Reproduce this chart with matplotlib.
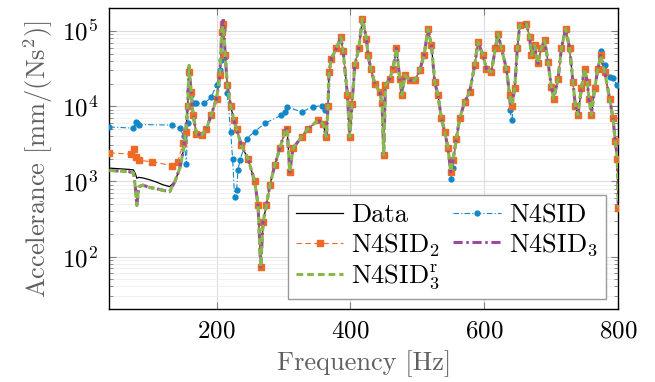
import numpy as np
import matplotlib
matplotlib.use("Agg")
import matplotlib.pyplot as plt
from matplotlib.ticker import LogLocator, NullFormatter

plt.rcParams['font.family'] = 'serif'
plt.rcParams['font.serif'] = ['cmr10']
plt.rcParams['mathtext.fontset'] = 'cm'
plt.rcParams['axes.formatter.use_mathtext'] = True
plt.rcParams['axes.unicode_minus'] = False

f_data = [40, 50, 60, 70, 76, 79, 81, 84, 90, 100, 110, 120, 130, 138, 145, 150, 154, 157,
          159, 162, 165, 170, 178, 185, 192, 200, 205, 208, 210, 213, 216, 221, 226]
v_data = [1500, 1480, 1460, 1440, 1420, 1250, 1100, 1130, 1110, 1050, 980, 900, 850, 1000,
          1490, 2450, 4600, 10200, 28500, 15500, 7600, 4300, 4100, 5000, 7600, 12600, 25800,
          97000, 125000, 47500, 19000, 10200, 6500]

# high frequency part, where all the models lie on top of the data
f_tail = [230, 237, 247, 257, 262, 266, 269.5, 274.6, 279.6, 287, 294.5, 302, 305.4, 309.4,
          314.3, 326.9, 336.7, 351.6, 359, 364, 366.6, 368, 371.6, 379, 385.5, 389, 395.5,
          399, 402.4, 406.4, 412.4, 417.9, 423.9, 426.3, 430.3, 436.3, 443.7, 447.2, 449.7,
          452.2, 458.7, 463.6, 468.7, 473.6, 477, 481, 488.5, 496, 503.4, 509.9, 515.8, 520.9,
          525.8, 530.7, 535.8, 540.7, 545.7, 549.7, 553.1, 558.2, 563, 570.6, 578, 585.5,
          590.4, 597.9, 603, 610.4, 616.4, 620.3, 625.4, 632.8, 637.8, 641.2, 645.2, 649.2,
          652.7, 662.7, 667.6, 670.1, 675, 680, 685, 690, 695, 700, 703.4, 710, 715, 721.3,
          727.3, 732.2, 735.8, 739.7, 744.8, 749.7, 753.7, 756.1, 759.7, 764.6, 769.6, 773.6,
          779.6, 787, 792, 795.5, 798.5, 800]
v_tail = [5000, 3000, 2000, 1000, 485, 73, 290, 485, 890, 1640, 2760, 4570, 5000, 1340,
          2760, 3900, 5000, 6500, 5800, 3900, 10200, 28500, 43000, 59000, 83000, 55000, 14000,
          3900, 10700, 35000, 59000, 146000, 79000, 47500, 31700, 20000, 15500, 11000, 2240,
          19000, 23300, 31700, 59000, 23300, 14000, 25800, 22000, 22000, 30000, 47500, 107000, 65000,
          21000, 14000, 6900, 4600, 2760, 1340, 1900, 3700, 6900, 11400, 15500, 35000,
          71500, 47500, 31700, 28500, 59000, 92000, 59000, 31700, 14000, 10200, 17200, 59000,
          119000, 125000, 83000, 47500, 65000, 37000, 59000, 75000, 39000, 18000, 12600, 23000, 59000, 107000,
          59000, 21000, 10200, 7600, 17200, 31700, 21000, 12600, 7600, 17200, 31700, 47500,
          28500, 12600, 6900, 3400, 2000, 440]

# N4SID
f_n4sid = [40, 76, 79, 81, 84, 133, 145, 151, 155, 157, 159, 162, 166, 170, 182, 192, 200,
           205, 207, 210, 213, 216, 221, 224, 227, 230, 232, 235, 245, 257, 272, 297, 302,
           305, 327, 344, 357, 362, 366.6,
           368, 371.6, 379, 385.5, 389, 395.5, 399, 402.4, 406.4, 412.4, 417.9, 423.9, 426.3,
           430.3, 436.3, 443.7, 447.2, 449.7, 452.2, 458.7, 463.6, 468.7, 473.6, 477, 481,
           488.5, 496, 503.4, 509.9, 515.8, 520.9, 525.8, 530.7, 535.8, 540.7, 545.7, 549.7,
           553.1, 558.2, 563, 570.6, 578, 585.5, 590.4, 597.9, 603, 610.4, 616.4, 620.3,
           625.4, 632.8, 637.8, 641.2, 645.2, 649.2, 652.7, 662.7, 667.6, 670.1, 675, 680,
           685, 690, 695, 700, 703.4, 710, 715, 721.3, 727.3, 732.2, 735.8, 739.7, 744.8,
           749.7, 753.7, 756.1, 759.7, 764.6, 769.6, 773.6, 779.6, 787, 792, 798]
v_n4sid = [5300, 5100, 6200, 6000, 5700, 5600, 5100, 4000, 1700, 6000, 16000, 14000, 11000,
           10900, 10900, 13200, 19000, 30000, 41000, 107000, 45000, 15000, 4600, 2000, 610,
           770, 1420, 1900, 3700, 4600, 5900, 7600, 8400, 9800, 8400, 9800, 10200, 9000, 10200,
           28500, 43000, 59000, 83000, 55000, 14000, 3900, 10700, 35000, 59000, 146000, 79000,
           47500, 31700, 20000, 15500, 11000, 2240, 19000, 23300, 31700, 59000, 23300, 14000,
           25800, 22000, 22000, 30000, 47500, 107000, 65000, 21000, 14000, 6900, 4600, 2760,
           1070, 1500, 3700, 6900, 11400, 15500, 35000, 71500, 47500, 31700, 28500, 59000,
           92000, 59000, 31700, 9000, 6500, 17200, 59000, 119000, 125000, 83000, 47500, 65000,
           37000, 59000, 75000, 39000, 18000, 12600, 23000, 59000, 107000, 59000, 21000, 10200,
           7600, 17200, 31700, 21000, 12600, 7600, 17200, 31700, 55000, 35000, 24500, 24000,
           19000]

# N4SID_2, low frequency part (joins the data above 150 Hz)
f_n4sid2_lo = [40, 72, 77, 80, 84, 103, 133, 142, 150, 154, 157, 159, 162, 165, 170, 178,
               185, 192, 200, 205, 208, 210, 213, 216, 221, 226]
v_n4sid2_lo = [2400, 2300, 2700, 2100, 1900, 1830, 1620, 1830, 3200, 4600, 10200, 28500,
               15500, 7600, 4300, 4100, 5000, 7600, 12600, 25800, 97000, 125000, 47500, 19000,
               10200, 6500]

# N4SID_3 and N4SID_3^r, low frequency part
f_n4sid3_lo = [40, 50, 60, 70, 76, 79, 81, 84, 90, 100, 110, 120, 130, 138, 145, 150, 154,
               157, 159, 162, 165, 170, 178, 185, 192, 200, 205, 208, 210, 213, 216, 221, 226]
v_n4sid3_lo = [1400, 1380, 1360, 1340, 1300, 800, 480, 850, 890, 830, 800, 760, 730, 1000,
               1490, 2450, 4600, 10200, 33000, 15500, 7600, 4300, 4100, 5000, 7600, 12600,
               25800, 110000, 150000, 47500, 19000, 10200, 6500]
v_n4sid3r_lo = [1400, 1380, 1360, 1340, 1300, 800, 480, 850, 890, 830, 800, 760, 730, 1000,
                1490, 2450, 4600, 10200, 35000, 15500, 7600, 4300, 4100, 5000, 7600, 12600,
                25800, 105000, 118000, 47500, 19000, 10200, 6500]

c_n4sid = '#0f87c8'
c_n4sid2 = '#ef6a25'
c_n4sid3 = '#9b4a9f'
c_n4sid3r = '#86b84a'

fig = plt.figure(figsize=(6.55, 3.82), dpi=100)
ax = fig.add_axes([0.167, 0.191, 0.777, 0.787])

h_data, = ax.plot(f_data + f_tail, v_data + v_tail, color='black', lw=0.9, zorder=3,
                  label='Data')
h_n4sid, = ax.plot(f_n4sid, v_n4sid, color=c_n4sid, lw=0.8, ls=(0, (5, 2, 1, 2)),
                   marker='o', ms=3.5, zorder=4, label='N4SID')
h_n4sid2, = ax.plot(f_n4sid2_lo + f_tail, v_n4sid2_lo + v_tail, color=c_n4sid2, lw=0.8,
                    ls=(0, (5, 3)), marker='s', ms=4, zorder=5, label=r'N4SID$_2$')
h_n4sid3, = ax.plot(f_n4sid3_lo + f_tail, v_n4sid3_lo + v_tail, color=c_n4sid3, lw=2.2,
                    ls=(0, (3, 1.2, 0.8, 1.2)), zorder=6, label=r'N4SID$_3$')
h_n4sid3r, = ax.plot(f_n4sid3_lo + f_tail, v_n4sid3r_lo + v_tail, color=c_n4sid3r, lw=2.2,
                     ls=(0, (2.2, 1.3)), zorder=7, label=r'N4SID$_3^{\mathrm{r}}$')

ax.set_yscale('log')
ax.set_xlim(40, 800)
ax.set_ylim(20, 2e5)
ax.set_xticks([200, 400, 600, 800])
ax.yaxis.set_major_locator(LogLocator(base=10, numticks=10))
ax.yaxis.set_minor_locator(LogLocator(base=10, subs=np.arange(2, 10), numticks=10))
ax.yaxis.set_minor_formatter(NullFormatter())

ax.grid(True, which='major', color='#dcdcdc', lw=0.8)
ax.grid(True, which='minor', axis='y', color='#eeeeee', lw=0.6)
ax.set_axisbelow(True)

ax.tick_params(which='both', direction='in', top=True, right=True, color='#808080',
               labelsize=18, pad=8)
ax.tick_params(which='major', length=5)
ax.tick_params(which='minor', length=3)
for s in ax.spines.values():
    s.set_linewidth(1.0)

ax.set_xlabel('Frequency [Hz]', fontsize=19, color='#606060', labelpad=6)
ax.set_ylabel(r'Accelerance [mm/(Ns$^2$)]', fontsize=19, color='#606060', labelpad=5)

leg = ax.legend([h_data, h_n4sid2, h_n4sid3r, h_n4sid, h_n4sid3],
                ['Data', r'N4SID$_2$', r'N4SID$_3^{\mathrm{r}}$', 'N4SID', r'N4SID$_3$'],
                ncol=2, loc='lower left', bbox_to_anchor=(0.351, 0.032), fontsize=19,
                frameon=True, fancybox=False, framealpha=1, edgecolor='#999999',
                handlelength=1.8, handletextpad=0.3, columnspacing=0.5, labelspacing=0.15,
                borderpad=0.3, borderaxespad=0)
leg.get_frame().set_linewidth(1.0)
leg.set_zorder(10)

fig.savefig('out.png', dpi=100)
